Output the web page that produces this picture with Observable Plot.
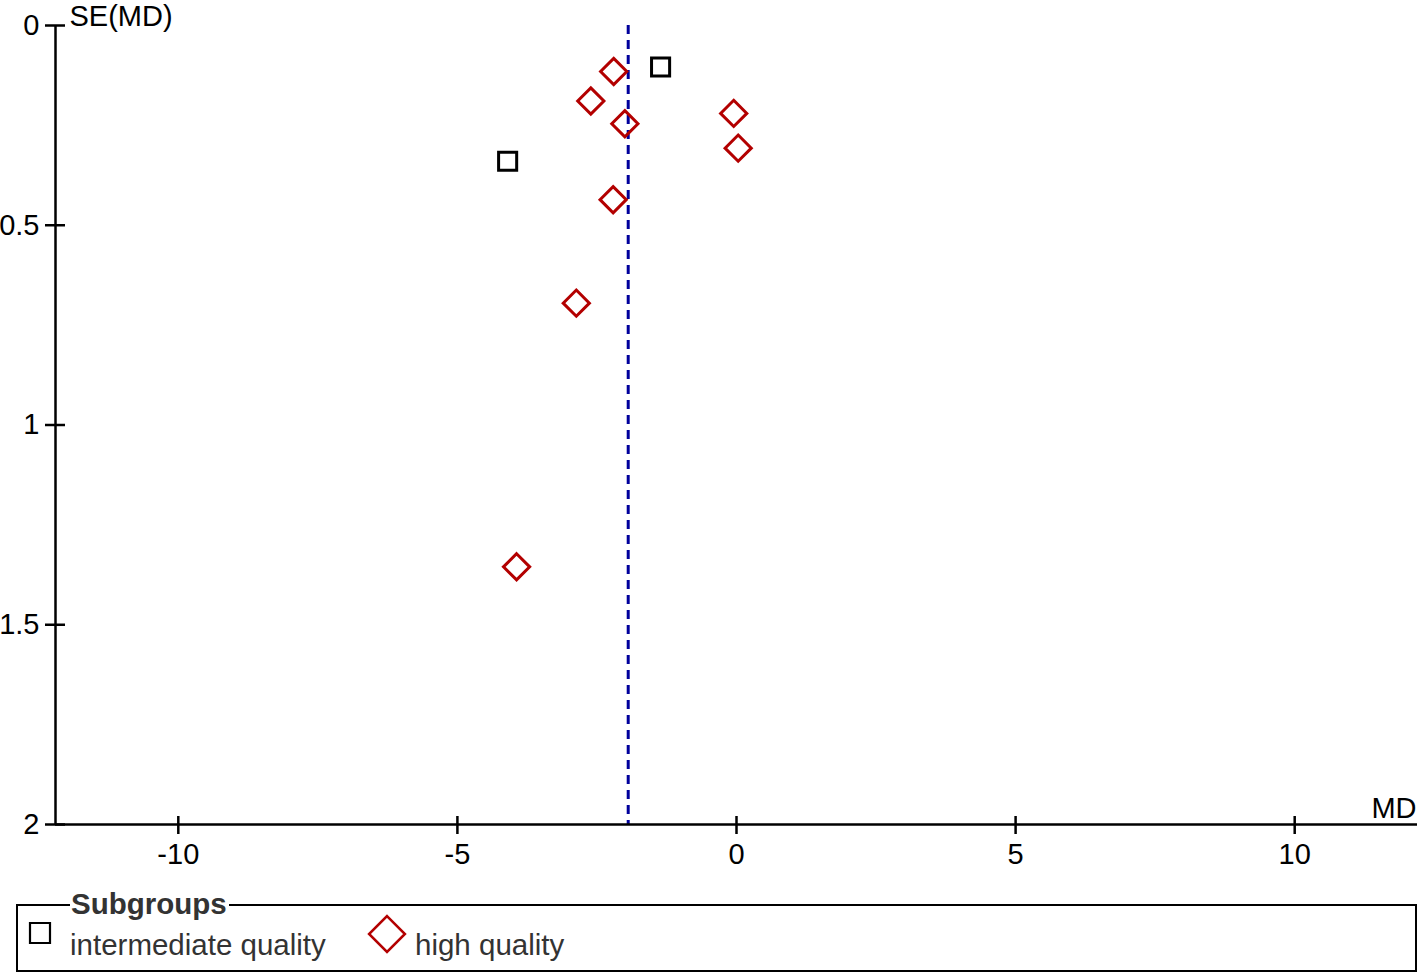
<!DOCTYPE html>
<html>
<head>
<meta charset="utf-8">
<script src="https://cdn.jsdelivr.net/npm/d3@7"></script>
<script src="https://cdn.jsdelivr.net/npm/@observablehq/plot@0.6"></script>
<style>
  html, body { margin: 0; padding: 0; background: #fff; }
  body { font-family: "Liberation Sans", Arial, sans-serif; width: 1417px; height: 973px; position: relative; overflow: hidden; }
  #chart { position: absolute; left: 0; top: 0; }
  #legend { position: absolute; left: 16px; top: 904px; width: 1397px; height: 64px; border: 2px solid #000; box-sizing: content-box; }
  #legend .title { position: absolute; left: 52px; top: -18px; background: #fff; padding: 0 2px 0 1px; font-weight: bold; font-size: 29.5px; color: #333; line-height: 32px; }
  #legend .item { position: absolute; font-size: 29.5px; color: #333; line-height: 32px; }
  #legend svg { position: absolute; overflow: visible; }
</style>
</head>
<body>
<div id="chart"></div>
<div id="legend"></div>
<script>
// Study-level data
const subgroup = ["intermediate quality", "intermediate quality", "high quality", "high quality", "high quality", "high quality", "high quality", "high quality", "high quality", "high quality"];
const md = [-1.36, -4.10, -2.20, -2.61, -2.00, -0.05, 0.03, -2.21, -2.87, -3.94];
const seMD = [0.104, 0.340, 0.115, 0.189, 0.246, 0.220, 0.307, 0.436, 0.695, 1.355];
const pooledMD = [-1.94];
const xTicks = [-10, -5, 0, 5, 10];
const yTicks = [0, 0.5, 1, 1.5, 2];
const yTickLabels = ["0", "0.5", "1", "1.5", "2"];
const groups = ["intermediate quality", "high quality"];
const groupSymbols = ["square", "diamond2"];
const groupColors = ["#000000", "#b30000"];

const data = md.map((m, i) => ({md: m, se: seMD[i], group: subgroup[i]}));
const font = '"Liberation Sans", Arial, sans-serif';

const chart = Plot.plot({
  width: 1417,
  height: 880,
  marginLeft: 55,
  marginRight: 0,
  marginTop: 25,
  marginBottom: 56,
  x: {domain: [-12.2, 12.2]},
  y: {domain: [0, 2], reverse: true},
  style: {fontFamily: font, fontSize: "29px", color: "#000", background: "#fff", overflow: "visible"},
  marks: [
    Plot.ruleX(pooledMD, {y1: 0, y2: 2, stroke: "#00009c", strokeWidth: 3, strokeDasharray: "9,6"}),
    Plot.ruleY([2], {stroke: "#000", strokeWidth: 2.5}),
    Plot.ruleX([-12.2], {y1: 0, y2: 2, stroke: "#000", strokeWidth: 2.5}),
    Plot.axisX({ticks: xTicks, tickSize: 18, dy: -8, tickPadding: 9, fontSize: 29, strokeWidth: 2.5, tickFormat: d => String(d), label: null}),
    Plot.axisY({ticks: yTicks, tickSize: 20, dx: 10, tickPadding: 6, fontSize: 29, strokeWidth: 2.5, tickFormat: d => yTickLabels[yTicks.indexOf(d)], label: null}),
    Plot.dot(data.filter(d => d.group === groups[0]), {
      x: "md", y: "se", symbol: groupSymbols[0], r: 10.2,
      stroke: groupColors[0], fill: "none", strokeWidth: 3
    }),
    Plot.dot(data.filter(d => d.group === groups[1]), {
      x: "md", y: "se", symbol: groupSymbols[1], r: 11.8,
      stroke: groupColors[1], fill: "none", strokeWidth: 3
    }),
    Plot.text(["SE(MD)"], {frameAnchor: "top-left", dx: 14, dy: 0, lineAnchor: "bottom", textAnchor: "start", fontSize: 29}),
    Plot.text(["MD"], {frameAnchor: "bottom-right", dx: -1, dy: -7, lineAnchor: "bottom", textAnchor: "end", fontSize: 29})
  ]
});
document.getElementById("chart").appendChild(chart);

// Legend (HTML, below the SVG)
const legend = document.getElementById("legend");
const title = document.createElement("div");
title.className = "title";
title.textContent = "Subgroups";
legend.appendChild(title);

const ns = "http://www.w3.org/2000/svg";
function sym(kind, left, top, color) {
  const s = document.createElementNS(ns, "svg");
  s.setAttribute("width", 40); s.setAttribute("height", 40);
  s.style.left = left + "px"; s.style.top = top + "px";
  const g = document.createElementNS(ns, "path");
  const p = kind === "square" ? d3.symbol(d3.symbolSquare, 400)() : d3.symbol(d3.symbolDiamond2, 820)();
  g.setAttribute("d", p);
  g.setAttribute("transform", "translate(20,20)");
  g.setAttribute("fill", "none");
  g.setAttribute("stroke", color);
  g.setAttribute("stroke-width", kind === "square" ? 2.2 : 2.5);
  s.appendChild(g);
  legend.appendChild(s);
}
sym(groupSymbols[0], 2, 7, groupColors[0]);
sym(groupSymbols[1], 349, 8, groupColors[1]);
const t1 = document.createElement("div");
t1.className = "item"; t1.style.left = "52px"; t1.style.top = "23px"; t1.textContent = groups[0];
legend.appendChild(t1);
const t2 = document.createElement("div");
t2.className = "item"; t2.style.left = "397px"; t2.style.top = "23px"; t2.textContent = groups[1];
legend.appendChild(t2);
</script>
</body>
</html>
